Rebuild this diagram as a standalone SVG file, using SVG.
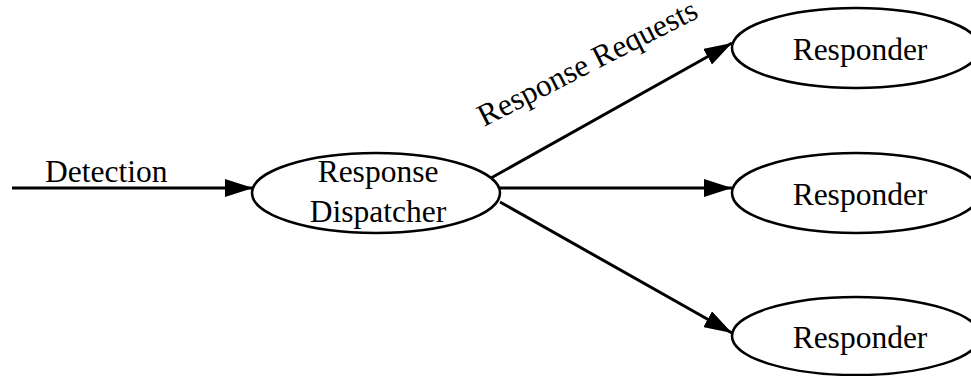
<svg xmlns="http://www.w3.org/2000/svg" width="971" height="376" viewBox="0 0 971 376">
  <style>
    .node { fill: #ffffff; stroke: #000000; stroke-width: 2.5; }
    .label { font-family: "Liberation Serif", "Times New Roman", serif; font-size: 31.5px; fill: #000000; }
    .mid { text-anchor: middle; }
    .edge { fill: none; stroke: #000000; stroke-width: 3; }
  </style>
  <defs>
    <marker id="arrow" viewBox="0 0 28 18" refX="28" refY="9" markerWidth="28" markerHeight="18" markerUnits="userSpaceOnUse" orient="auto">
      <path d="M0,0 L28,9 L0,18 Z" fill="#000000"/>
    </marker>
  </defs>

  <!-- connectors -->
  <g id="edges">
    <line class="edge" x1="12" y1="188" x2="253" y2="188" marker-end="url(#arrow)"/>
    <text class="label" x="484" y="127" transform="rotate(-27 484 127)">Response Requests</text>
    <line class="edge" x1="491" y1="178" x2="732" y2="43" marker-end="url(#arrow)"/>
    <line class="edge" x1="499" y1="188" x2="732" y2="188" marker-end="url(#arrow)"/>
    <line class="edge" x1="500" y1="202" x2="732" y2="333" marker-end="url(#arrow)"/>
  </g>
  <text class="label" x="45" y="182">Detection</text>

  <!-- dispatcher -->
  <g id="dispatcher">
    <ellipse class="node" cx="376" cy="193" rx="124" ry="40"/>
    <text class="label mid" x="378" y="182">Response</text>
    <text class="label mid" x="378" y="222">Dispatcher</text>
  </g>

  <!-- responders -->
  <g id="responder1">
    <ellipse class="node" cx="856" cy="48" rx="124" ry="40"/>
    <text class="label mid" x="860" y="60">Responder</text>
  </g>
  <g id="responder2">
    <ellipse class="node" cx="856" cy="193" rx="124" ry="40"/>
    <text class="label mid" x="860" y="205">Responder</text>
  </g>
  <g id="responder3">
    <ellipse class="node" cx="856" cy="336" rx="124" ry="39"/>
    <text class="label mid" x="860" y="348">Responder</text>
  </g>
</svg>
